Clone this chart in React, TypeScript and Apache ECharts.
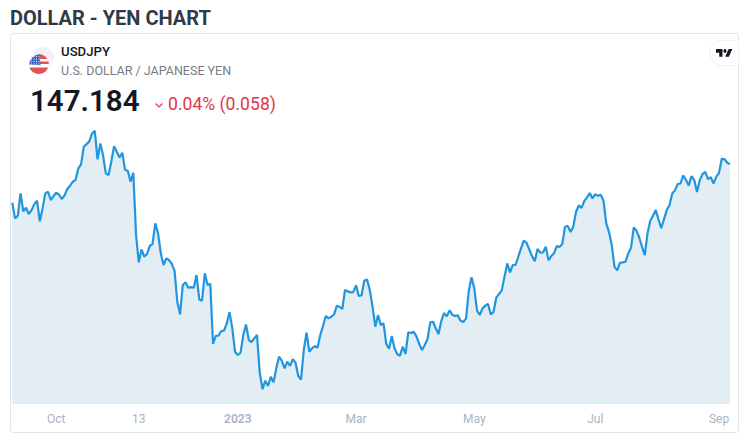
import React, { useEffect, useRef } from "react";
import * as echarts from "echarts";

const prices: number[] = [
  143.78,142.40,142.63,144.61,143.02,143.34,142.78,143.13,143.66,143.96,142.13,143.28,144.61,144.75,144.02,144.37,144.66,144.49,144.11,144.43,
  144.99,145.28,145.64,145.78,146.81,147.17,148.73,148.96,149.20,149.90,150.14,147.61,149.02,147.99,146.37,146.22,147.40,148.78,148.28,147.78,
  148.20,146.67,146.61,145.64,146.43,140.93,138.51,139.66,139.01,139.25,139.96,140.13,141.96,141.07,139.31,138.28,138.87,138.72,138.37,137.78,
  135.04,133.92,136.51,136.74,136.27,136.33,136.27,137.39,135.24,135.12,137.54,136.51,136.62,131.30,132.03,132.03,132.45,132.48,133.12,134.12,
  132.68,130.62,130.33,130.53,132.09,133.03,131.65,131.47,131.80,132.09,128.71,127.32,128.06,127.59,128.41,127.91,129.15,130.18,129.83,129.15,
  129.74,129.36,129.97,129.65,128.47,128.15,130.77,132.30,130.62,130.92,131.12,130.97,132.09,132.89,133.77,133.56,133.71,133.89,134.68,134.59,
  134.39,136.07,135.95,135.86,135.89,136.48,135.54,135.59,136.89,137.01,136.07,134.60,132.83,133.86,132.98,133.13,131.30,130.89,132.01,130.92,
  130.39,130.27,131.07,130.42,132.33,132.27,132.39,131.95,131.30,130.77,131.21,131.74,133.21,133.27,132.69,132.18,133.33,134.04,133.74,134.27,
  133.89,133.77,133.83,133.36,133.24,133.54,135.98,137.19,136.22,134.25,133.86,134.45,134.69,134.83,133.92,134.13,135.39,135.72,136.04,137.25,
  138.42,137.63,138.28,138.28,139.01,139.75,140.43,140.25,139.66,139.07,138.60,139.69,139.37,139.40,139.90,138.69,139.07,139.31,139.95,139.87,
  140.13,141.66,141.74,141.19,141.66,142.98,143.54,143.33,143.92,144.25,144.63,144.16,144.54,144.39,144.48,143.95,141.95,141.19,140.04,138.12,
  137.80,138.48,138.51,138.57,139.30,139.80,141.60,141.30,140.71,139.89,139.15,141.07,142.19,142.63,143.13,142.30,141.54,142.33,143.13,143.57,
  144.60,144.89,145.45,145.48,146.19,145.78,145.31,146.13,145.78,144.72,145.78,146.31,146.51,145.86,146.04,145.48,146.07,146.42,147.66,147.63,
  147.31,147.19,
];
const tickIndexes: number[] = [16, 46, 82, 125, 168, 212, 257];
const tickLabels: string[] = ["Oct", "13", "2023", "Mar", "May", "Jul", "Sep"];
const categories: string[] = prices.map((_, i) => {
  const t = tickIndexes.indexOf(i);
  return t >= 0 ? tickLabels[t] : String(i);
});

const FONT = "Roboto, sans-serif";
const LOGO = "M14 6H0V13H7V20H14V6ZM28 20H20L27.5 6H35.5L28 20ZM19.5 6A3.5 3.5 0 1 1 19.49 6Z";
const FLAG_BOTTOM = "M29.43 67.5A10 10 0 0 0 48.17 67.5Z";

const cantonDots: number[][] = [];
for (const y of [56.5, 59, 61.5, 64]) for (const x of [31.5, 34, 36.5, 39]) cantonDots.push([x, y]);

export default function App() {
  const ref = useRef<HTMLDivElement>(null);
  useEffect(() => {
    document.body.style.margin = "0";
    echarts.graphic.registerShape("tvlogo", echarts.graphic.extendPath(LOGO, {}) as any);
    echarts.graphic.registerShape("flagbottom", echarts.graphic.extendPath(FLAG_BOTTOM, {}) as any);
    const chart = echarts.init(ref.current!, undefined, { renderer: "svg" });
    chart.setOption({
      animation: false,
      backgroundColor: "#ffffff",
      grid: { left: 12.3, right: 23, top: 121, bottom: 38, containLabel: false },
      xAxis: {
        type: "category",
        data: categories,
        boundaryGap: false,
        axisLine: { show: false },
        axisTick: { show: false },
        splitLine: { show: false },
        axisLabel: {
          interval: (i: number) => tickIndexes.includes(i),
          margin: 9,
          fontFamily: FONT,
          fontSize: 12,
          color: "#a9b4c2",
          hideOverlap: false,
          formatter: (v: string) => (v === "2023" ? "{b|2023}" : v),
          rich: { b: { fontFamily: FONT, fontSize: 12, fontWeight: 600, color: "#a9b4c2" } },
        },
      },
      yAxis: { type: "value", min: 126, max: 151, show: false, splitLine: { show: false } },
      series: [
        {
          type: "line",
          data: prices,
          showSymbol: false,
          smooth: false,
          lineStyle: { color: "#2196de", width: 2.2 },
          areaStyle: { color: "#e3eef4", opacity: 1 },
          z: 3,
        },
      ],
      graphic: [
        { type: "rect", z: -1, silent: true, shape: { x: 10.5, y: 33.5, width: 728, height: 399, r: 3 }, style: { fill: "#fff", stroke: "#e0e3eb", lineWidth: 1 } },
        { type: "text", x: 10, y: 8, style: { text: "DOLLAR - YEN CHART", font: `700 20px ${FONT}`, fill: "#2e3a46" } },
        { type: "circle", shape: { cx: 43.5, cy: 57.5, r: 10.5 }, style: { fill: "#f0f1f9" } },
        { type: "circle", shape: { cx: 38.8, cy: 64, r: 10 }, style: { fill: "#ffffff" } },
        { type: "flagbottom", style: { fill: "#e8504f" } },
        { type: "polygon", shape: { points: [[40, 54.2], [42.5, 54.7], [46, 57], [47, 59], [40, 59]] }, style: { fill: "#e8504f" } },
        { type: "polygon", shape: { points: [[40, 61.5], [48.5, 61.5], [48.8, 64], [40, 64]] }, style: { fill: "#e8504f" } },
        { type: "sector", shape: { cx: 40.5, cy: 65.2, r: 11.3, r0: 0, startAngle: Math.PI * 1.02, endAngle: Math.PI * 1.48 }, style: { fill: "#3b68c4" } },
        ...cantonDots.map(([x, y]) => ({ type: "circle", shape: { cx: x, cy: y, r: 0.55 }, style: { fill: "#dfe8fb" } })),
        { type: "text", x: 61, y: 45, style: { text: "USDJPY", font: `500 13.2px ${FONT}`, fill: "#131722" } },
        { type: "text", x: 61, y: 64, style: { text: "U.S. DOLLAR / JAPANESE YEN", font: `400 12.5px ${FONT}`, fill: "#787b86" } },
        { type: "text", x: 30, y: 85.5, style: { text: "147.184", font: `600 29.5px ${FONT}`, fill: "#131722" } },
        { type: "polyline", shape: { points: [[155.5, 103.5], [159, 107], [162.5, 103.5]] }, style: { stroke: "#e0394a", lineWidth: 1.2, fill: "none" } },
        { type: "text", x: 168, y: 94.5, style: { text: "0.04% (0.058)", font: `400 17.6px ${FONT}`, fill: "#e0394a" } },
        { type: "rect", shape: { x: 709.5, y: 40.5, width: 29, height: 25, r: [12.5, 0, 0, 12.5] }, style: { fill: "#ffffff", stroke: "#f0f1f3", lineWidth: 1 } },
        { type: "tvlogo", x: 716, y: 45.7, scaleX: 0.46, scaleY: 0.55, style: { fill: "#131722" } },
      ],
    });
    return () => chart.dispose();
  }, []);
  return <div ref={ref} style={{ position: "absolute", left: 0, top: 0, width: 753, height: 442 }} />;
}
